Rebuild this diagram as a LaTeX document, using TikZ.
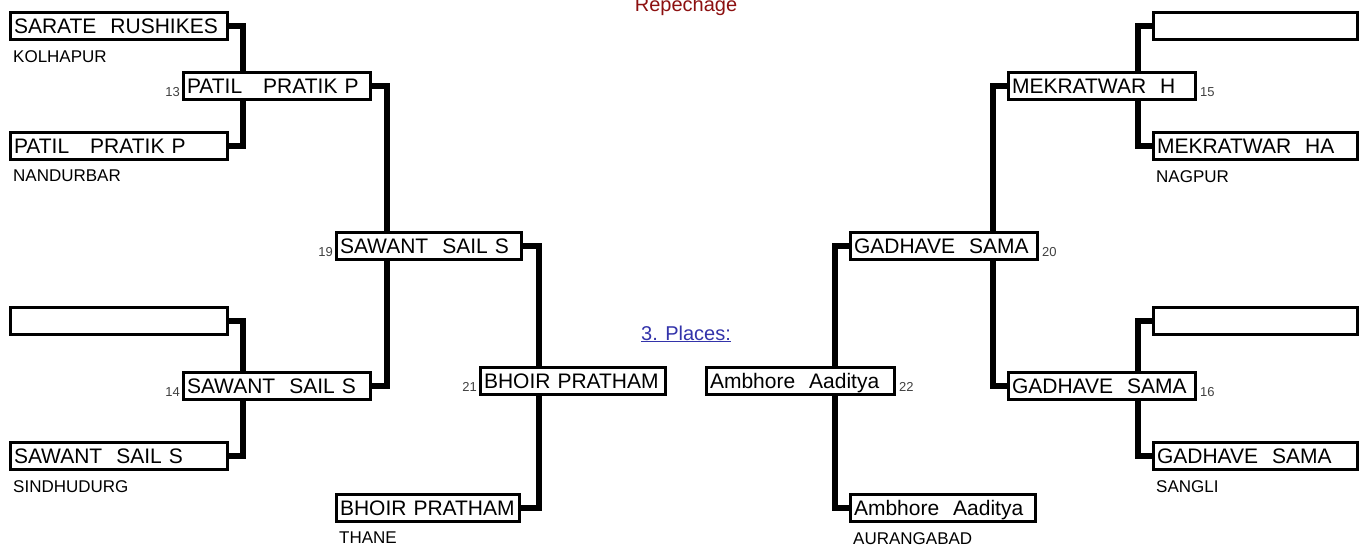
\documentclass[tikz,border=0pt]{standalone}
\usepackage{fontspec}
\setmainfont{Liberation Sans}
\usetikzlibrary{positioning, backgrounds}
\definecolor{repred}{RGB}{140,16,16}
\definecolor{placeblue}{RGB}{51,51,170}

\begin{document}
\begin{tikzpicture}[
  x=1pt, y=-1pt,
  player/.style={draw, line width=3pt, fill=white, anchor=north west, minimum height=27pt, text width=#1, inner xsep=3.5pt, inner ysep=0pt, text height=16pt, text depth=2pt, align=left, font=\fontsize{21}{21}\selectfont},
  city/.style={inner sep=0pt, font=\fontsize{17}{17}\selectfont},
  num/.style={inner sep=0pt, text=black!75, font=\fontsize{13}{13}\selectfont},
  title/.style={inner sep=0pt, anchor=base, font=\fontsize{20}{20}\selectfont},
  link/.style={line width=6pt, line join=miter}
]
\useasboundingbox (0,0) rectangle (1368,547);

% left half
\node[player=210pt] (a1) at (9,11) {SARATE~~RUSHIKES};
\node[city, below right=9pt and 4pt of a1.south west] (kol) {KOLHAPUR};
\node[player=210pt] (a2) at (9,131) {PATIL~~~PRATIK~P};
\node[city, below right=9pt and 4pt of a2.south west] (nan) {NANDURBAR};
\node[player=210pt] (a3) at (9,306) {};
\node[player=210pt] (a4) at (9,441) {SAWANT~~SAIL~S};
\node[city, below right=9pt and 4pt of a4.south west] (sin) {SINDHUDURG};
\node[player=180pt] (m13) at (182,71) {PATIL~~~PRATIK~P};
\node[num, above left=4pt and 2pt of m13.south west] (n13) {13};
\node[player=180pt] (m14) at (182,371) {SAWANT~~SAIL~S};
\node[num, above left=4pt and 2pt of m14.south west] (n14) {14};
\node[player=178pt] (m19) at (335,231) {SAWANT~~SAIL~S};
\node[num, above left=4pt and 2pt of m19.south west] (n19) {19};
\node[player=178pt] (m21) at (479,366) {BHOIR~PRATHAM};
\node[num, above left=4pt and 2pt of m21.south west] (n21) {21};
\node[player=176pt] (b21) at (335,493) {BHOIR~PRATHAM};
\node[city, below right=9pt and 4pt of b21.south west] (tha) {THANE};

% right half
\node[player=197pt] (r1) at (1152,11) {};
\node[player=197pt] (r2) at (1152,131) {MEKRATWAR~~HA};
\node[city, below right=9pt and 4pt of r2.south west] (nag) {NAGPUR};
\node[player=197pt] (r3) at (1152,306) {};
\node[player=197pt] (r4) at (1152,441) {GADHAVE~~SAMA};
\node[city, below right=9pt and 4pt of r4.south west] (san) {SANGLI};
\node[player=180pt] (m15) at (1007,71) {MEKRATWAR~~H};
\node[num, above right=4pt and 3pt of m15.south east] (n15) {15};
\node[player=180pt] (m16) at (1007,371) {GADHAVE~~SAMA};
\node[num, above right=4pt and 3pt of m16.south east] (n16) {16};
\node[player=180pt] (m20) at (849,231) {GADHAVE~~SAMA};
\node[num, above right=4pt and 3pt of m20.south east] (n20) {20};
\node[player=181pt] (m22) at (705,366) {Ambhore~~Aaditya};
\node[num, above right=4pt and 3pt of m22.south east] (n22) {22};
\node[player=178pt] (b22) at (849,493) {Ambhore~~Aaditya};
\node[city, below right=9pt and 4pt of b22.south west] (aur) {AURANGABAD};

% headings
\node[title, text=repred] (rep) at (686,11) {Repechage};
\node[title, text=placeblue] (places) at (686,340) {\underline{3. Places:}};

% bracket lines behind the boxes
\begin{scope}[on background layer]
\draw[link] (a1.east) -- ++(14,0) |- (a2.east);
\draw[link] (a3.east) -- ++(14,0) |- (a4.east);
\draw[link] (m13.east) -- ++(15,0) |- (m14.east);
\draw[link] (m19.east) -- ++(16,0) |- (b21.east);
\draw[link] (r1.west) -- ++(-14,0) |- (r2.west);
\draw[link] (r3.west) -- ++(-14,0) |- (r4.west);
\draw[link] (m15.west) -- ++(-14,0) |- (m16.west);
\draw[link] (m20.west) -- ++(-14,0) |- (b22.west);
\end{scope}
\end{tikzpicture}
\end{document}
